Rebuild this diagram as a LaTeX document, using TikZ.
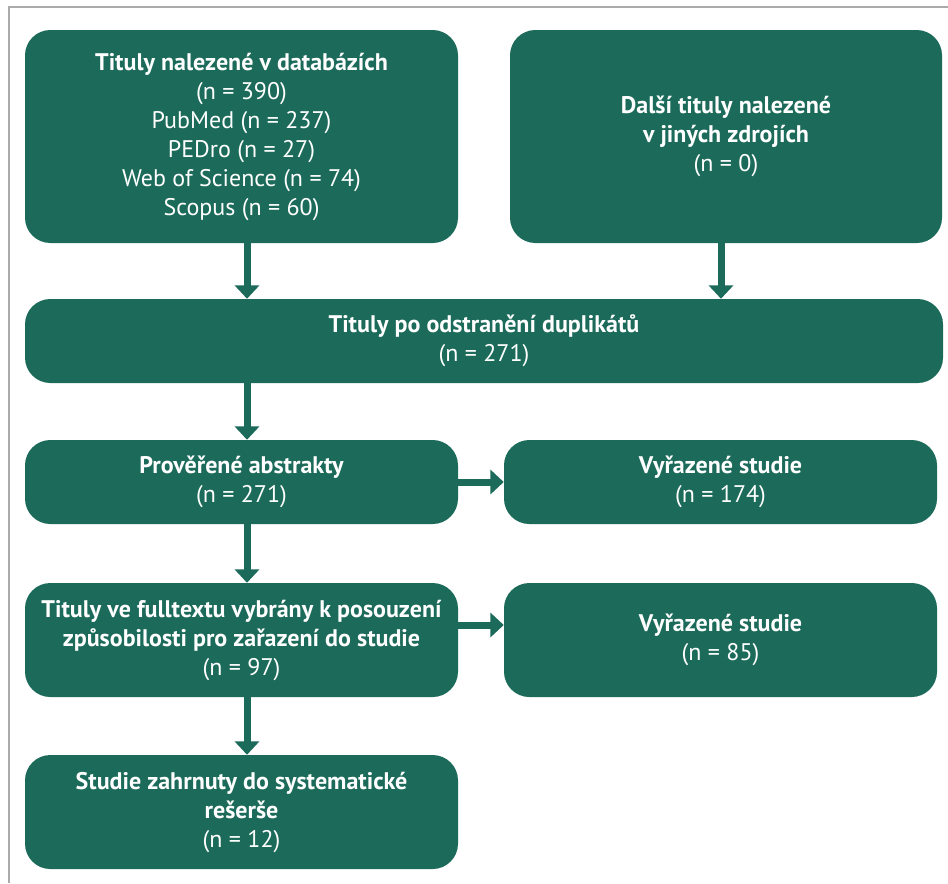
\documentclass[tikz,border=0pt]{standalone}
\usepackage{fontspec}
\setmainfont{PT Sans}
\usetikzlibrary{arrows.meta,calc}
\definecolor{boxgreen}{RGB}{28,107,90}
\definecolor{framegray}{RGB}{170,170,170}
\begin{document}
\begin{tikzpicture}[x=0.75pt,y=-0.75pt,
  box/.style={fill=boxgreen, rounded corners=19pt, text=white, align=center,
    font=\fontsize{18}{21.75}\selectfont, inner sep=0pt},
  wbox/.style={box, minimum width=324.75pt},
  arr/.style={draw=boxgreen, line width=5.25pt, -{Triangle[width=18pt,length=10pt]}}]
\fill[white] (0,0) rectangle (948,883);
\useasboundingbox (0,0) rectangle (948,883);
\draw[framegray, line width=0.8pt] (9,883) -- (9,7) -- (948,7);

\node[wbox, minimum height=159.75pt] (b1) at (241.5,136.5)
  {\textbf{Tituly nalezené v databázích}\\(n = 390)\\PubMed (n = 237)\\PEDro (n = 27)\\Web of Science (n = 74)\\Scopus (n = 60)};
\node[box, minimum width=324pt, minimum height=159.75pt] (b2) at (726,136.5)
  {\textbf{Další tituly nalezené}\\\textbf{v jiných zdrojích}\\(n = 0)};
\node[box, minimum width=688.5pt, minimum height=63pt] (b3) at (484,341)
  {\textbf{Tituly po odstranění duplikátů}\\(n = 271)};
\node[wbox, minimum height=63pt] (b4) at (241.5,482)
  {\textbf{Prověřené abstrakty}\\(n = 271)};
\node[wbox, minimum height=63pt] (b5) at (720.5,482)
  {\textbf{Vyřazené studie}\\(n = 174)};
\node[wbox, minimum height=85.5pt] (b6) at (241.5,640)
  {\textbf{Tituly ve fulltextu vybrány k posouzení}\\\textbf{způsobilosti pro zařazení do studie}\\(n = 97)};
\node[wbox, minimum height=85.5pt] (b7) at (720.5,640)
  {\textbf{Vyřazené studie}\\(n = 85)};
\node[wbox, minimum height=85.5pt] (b8) at (241.5,812)
  {\textbf{Studie zahrnuty do systematické}\\\textbf{rešerše}\\(n = 12)};

\coordinate (axl) at (247,0);
\coordinate (axr) at (721,0);
\coordinate (ay6) at (0,625);
\draw[arr] (b1.south -| axl) -- (b3.north -| axl);
\draw[arr] (b2.south -| axr) -- (b3.north -| axr);
\draw[arr] (b3.south -| axl) -- (b4.north -| axl);
\draw[arr] (b4.south -| axl) -- (b6.north -| axl);
\draw[arr] (b6.south -| axl) -- (b8.north -| axl);
\draw[arr] (b4.east) -- (b5.west);
\draw[arr] (b6.east |- ay6) -- (b7.west |- ay6);
\end{tikzpicture}
\end{document}
